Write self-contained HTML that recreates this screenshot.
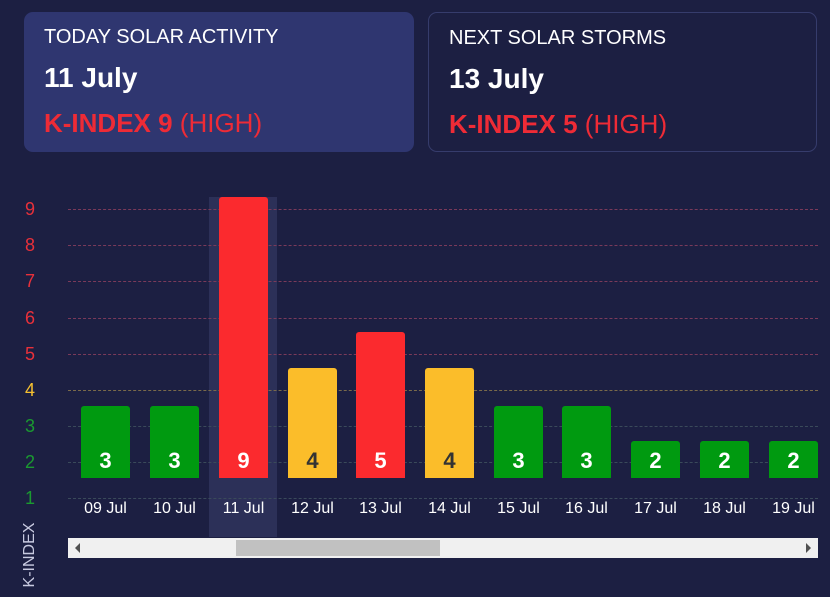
<!DOCTYPE html><html><head><style>
body{margin:0;width:830px;height:597px;background:#1c1f42;font-family:"Liberation Sans",sans-serif;position:relative;overflow:hidden;color:#fff}
.card{position:absolute;top:12px;height:140px;box-sizing:border-box;border-radius:9px;padding:0 20px}
.t{position:absolute;left:20px;top:14px;font-size:20px}
.d{position:absolute;left:20px;top:50px;font-size:28px;font-weight:bold}
.k{position:absolute;left:20px;top:96px;font-size:26px;color:#ee2b36}
.a{position:absolute;font-size:18px;width:20px;text-align:center;left:20px}
.g{position:absolute;left:68px;width:750px;border-top:1px dashed #7a3a5a}
.b{position:absolute;width:49px;bottom:119px;border-radius:3px 3px 0 0}
.v{position:absolute;bottom:4px;width:100%;text-align:center;font-weight:bold;font-size:22px}
.x{position:absolute;top:500px;width:69px;text-align:center;font-size:16px}
</style></head><body>
<div class="card" style="left:24px;width:390px;background:#2f3670"><div class="t">TODAY SOLAR ACTIVITY</div><div class="d">11 July</div><div class="k"><b>K-INDEX 9</b> (HIGH)</div></div>
<div class="card" style="left:428px;width:389px;border:1px solid #363c6c"><div class="t">NEXT SOLAR STORMS</div><div class="d">13 July</div><div class="k"><b>K-INDEX 5</b> (HIGH)</div></div>
<div style="position:absolute;left:209px;top:197px;width:68px;height:340px;background:#2c3058"></div>
<div class="g" style="top:209px"></div><div class="g" style="top:245px"></div><div class="g" style="top:281px"></div><div class="g" style="top:318px"></div><div class="g" style="top:354px"></div><div class="g" style="top:390px;border-color:#7a6a4a"></div><div class="g" style="top:426px;border-color:#3a4a5a"></div><div class="g" style="top:462px;border-color:#3a4a5a"></div><div class="g" style="top:498px;border-color:#3a4a5a"></div>
<div class="a" style="top:199px;color:#e8303a">9</div><div class="a" style="top:235px;color:#e8303a">8</div><div class="a" style="top:271px;color:#e8303a">7</div><div class="a" style="top:308px;color:#e8303a">6</div><div class="a" style="top:344px;color:#e8303a">5</div><div class="a" style="top:380px;color:#f5c030">4</div><div class="a" style="top:416px;color:#1a9a30">3</div><div class="a" style="top:452px;color:#1a9a30">2</div><div class="a" style="top:488px;color:#1a9a30">1</div>
<div style="position:absolute;left:-8px;top:546px;transform:rotate(-90deg);font-size:16px;color:#c8cae0;width:76px;text-align:center">K-INDEX</div>
<div class="b" style="left:81px;height:72px;background:#009a10"><div class="v">3</div></div>
<div class="b" style="left:150px;height:72px;background:#009a10"><div class="v">3</div></div>
<div class="b" style="left:219px;height:281px;background:#fb2a2e"><div class="v">9</div></div>
<div class="b" style="left:288px;height:110px;background:#fbbd2a"><div class="v" style="color:#333">4</div></div>
<div class="b" style="left:356px;height:146px;background:#fb2a2e"><div class="v">5</div></div>
<div class="b" style="left:425px;height:110px;background:#fbbd2a"><div class="v" style="color:#333">4</div></div>
<div class="b" style="left:494px;height:72px;background:#009a10"><div class="v">3</div></div>
<div class="b" style="left:562px;height:72px;background:#009a10"><div class="v">3</div></div>
<div class="b" style="left:631px;height:37px;background:#009a10"><div class="v">2</div></div>
<div class="b" style="left:700px;height:37px;background:#009a10"><div class="v">2</div></div>
<div class="b" style="left:769px;height:37px;background:#009a10"><div class="v">2</div></div>
<div class="x" style="left:71px">09 Jul</div><div class="x" style="left:140px">10 Jul</div><div class="x" style="left:209px">11 Jul</div><div class="x" style="left:278px">12 Jul</div><div class="x" style="left:346px">13 Jul</div><div class="x" style="left:415px">14 Jul</div><div class="x" style="left:484px">15 Jul</div><div class="x" style="left:552px">16 Jul</div><div class="x" style="left:621px">17 Jul</div><div class="x" style="left:690px">18 Jul</div><div class="x" style="left:759px">19 Jul</div>
<div style="position:absolute;left:68px;top:538px;width:750px;height:20px;background:#f0f0f0"></div>
<div style="position:absolute;left:236px;top:540px;width:204px;height:16px;background:#c1c1c1"></div>
<div style="position:absolute;left:75px;top:543px;width:0;height:0;border:5px solid transparent;border-right:5px solid #505050;border-left:0"></div>
<div style="position:absolute;left:806px;top:543px;width:0;height:0;border:5px solid transparent;border-left:5px solid #505050;border-right:0"></div>
</body></html>
